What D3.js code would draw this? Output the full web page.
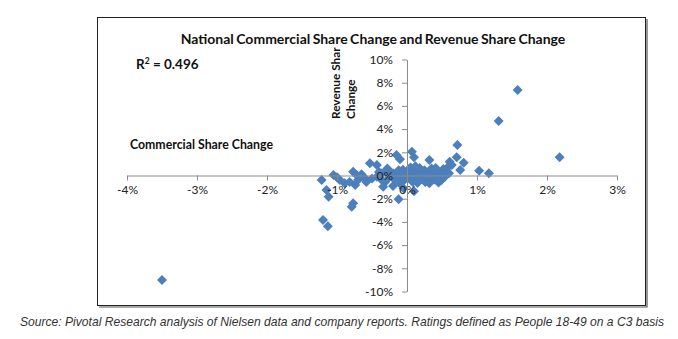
<!DOCTYPE html>
<html>
<head>
<meta charset="utf-8">
<script src="https://cdn.jsdelivr.net/npm/d3@7"></script>
<style>
  body { margin: 0; background: #fff; }
  svg { display: block; }
</style>
</head>
<body>
<div id="chart"></div>
<script>
// commercial share change (%) and revenue share change (%) per network
var commercialShare = [
  -3.50, 1.58, 1.31, 2.18, 0.72, 0.71, 0.81, 0.76, 1.03, 1.17,
  0.61, 0.64, 0.32, 0.07, 0.10, 0.10, -0.12, 0.32,
  -0.15, -0.10, -0.53, -0.43, -0.77, -0.72, -1.05, -1.22, -1.15, -1.12,
  -0.96, -0.89, -0.74, -0.70, -0.60, -0.79, -0.77, -1.20, -1.13,
  -0.31, -0.34, -0.43, -0.36, -0.20, -0.05,
  -0.30, -0.25, -0.20, -0.18, -0.15, -0.12, -0.10, -0.08, -0.05, -0.04,
  -0.02, 0.00, 0.02, 0.03, 0.05, 0.06, 0.08, 0.10, 0.12, 0.13,
  0.15, 0.17, 0.19, 0.20, 0.22, 0.24, 0.25, 0.27, 0.29, 0.30,
  0.32, 0.34, 0.36, 0.38, 0.40, 0.42, 0.43, 0.45, 0.47, 0.49,
  0.50, 0.52, 0.54, 0.56, 0.58, 0.60, -0.35, -0.28, 0.05, 0.18,
  0.35, 0.45, 0.15, -0.10, -0.50, -0.65, -1.00, -0.82,
  -0.22, 0.08, 0.26, 0.41, 0.55, -0.06, 0.33, 0.12, -0.40, -0.58
];
var revenueShare = [
  -9.00, 7.36, 4.69, 1.57, 2.63, 1.57, 1.10, 0.47, 0.41, 0.19,
  1.19, 0.90, 1.34, 2.05, 1.57, -1.36, -2.05, -0.67,
  1.77, 1.40, 1.05, 0.90, 0.33, 0.04, 0.04, -0.39, -1.25, -1.83,
  -0.39, -0.67, -0.82, -0.39, -0.24, -2.69, -2.40, -3.83, -4.37,
  -0.53, -0.96, -0.10, 0.19, -0.90, -1.10,
  0.35, -0.10, 0.20, -0.35, 0.05, 0.45, -0.20, 0.10, -0.45, 0.30,
  0.00, -0.15, 0.25, 0.55, -0.30, 0.05, 0.35, -0.10, 0.15, -0.40,
  0.40, 0.00, -0.20, 0.25, 0.10, -0.30, 0.45, -0.05, 0.20, -0.45,
  0.05, 0.30, -0.20, 0.15, -0.35, 0.40, 0.00, -0.15, 0.25, -0.40,
  0.10, 0.55, -0.10, 0.30, 0.70, 0.20, -0.45, 0.60, 0.70, 0.65,
  0.60, -0.60, -0.65, -0.70, -0.25, 0.10, -0.15, -0.55,
  0.15, -0.55, -0.55, 0.65, 0.10, 0.50, -0.35, 0.80, 0.30, -0.55
];
var xTicks = [-4, -3, -2, -1, 0, 1, 2, 3];
var yTicks = [-10, -8, -6, -4, -2, 0, 2, 4, 6, 8, 10];

var chartTitle = 'National Commercial Share Change and Revenue Share Change';
var rSquared = '0.496';
var sourceNote = 'Source: Pivotal Research analysis of Nielsen data and company reports. Ratings defined as People 18-49 on a C3 basis';

var W = 678, H = 339;
var svg = d3.select('#chart').append('svg')
  .attr('width', W)
  .attr('height', H);

var points = commercialShare.map(function(c, i) {
  return { x: c, y: revenueShare[i] };
});

// plot frame
svg.append('rect')
  .attr('x', 97.5).attr('y', 17.5)
  .attr('width', 548).attr('height', 288)
  .attr('fill', '#fff')
  .attr('stroke', '#222')
  .attr('stroke-width', 1);
svg.append('path')
  .attr('d', 'M647,19V307H99')
  .attr('fill', 'none')
  .attr('stroke', '#555')
  .attr('stroke-width', 1.2);

var x = d3.scaleLinear().domain([-4, 3]).range([127, 617]);
var y = d3.scaleLinear().domain([-10, 10]).range([291.5, 59.5]);

var fmt = function(d) { return d + '%'; };
var labelFont = 'Lato, "Open Sans", sans-serif';

// network markers (drawn under the axes so the tick labels stay on top)
var diamond = d3.symbol().type(d3.symbolSquare).size(50);
svg.append('g').selectAll('path')
  .data(points)
  .enter().append('path')
    .attr('d', diamond)
    .attr('transform', function(d) {
      return 'translate(' + x(d.x) + ',' + y(d.y) + ') rotate(45)';
    })
    .attr('fill', '#4c7fbc');

var xAxis = svg.append('g')
  .attr('transform', 'translate(0,' + y(0) + ')')
  .call(d3.axisBottom(x).tickValues(xTicks).tickFormat(fmt)
    .tickSize(5).tickSizeOuter(0).tickPadding(5));

var yAxis = svg.append('g')
  .attr('transform', 'translate(' + x(0) + ',0)')
  .call(d3.axisLeft(y).tickValues(yTicks).tickFormat(fmt)
    .tickSize(5).tickSizeOuter(0).tickPadding(9));

[xAxis, yAxis].forEach(function(ax) {
  ax.select('.domain').attr('stroke', '#8c8c8c');
  ax.selectAll('.tick line').attr('stroke', '#8c8c8c');
  ax.selectAll('.tick text')
    .attr('fill', '#222')
    .style('font-family', labelFont)
    .style('font-size', '12px');
});

// titles
svg.append('text')
  .attr('x', 373).attr('y', 44)
  .attr('text-anchor', 'middle')
  .style('font-family', labelFont)
  .style('font-weight', 'bold')
  .style('font-size', '14px')
  .style('word-spacing', '-1px')
  .attr('fill', '#111')
  .text(chartTitle);

var r2 = svg.append('text')
  .attr('x', 136).attr('y', 69)
  .style('font-family', labelFont)
  .style('font-weight', 'bold')
  .style('font-size', '13.5px')
  .attr('fill', '#111');
r2.append('tspan').text('R');
r2.append('tspan').attr('dy', -5).style('font-size', '8.5px').text('2');
r2.append('tspan').attr('dy', 5).text(' = ' + rSquared);

svg.append('text')
  .attr('x', 130).attr('y', 149)
  .style('font-family', labelFont)
  .style('font-weight', 'bold')
  .style('font-size', '12.3px')
  .attr('fill', '#111')
  .text('Commercial Share Change');

var yTitle = svg.append('text')
  .attr('transform', 'translate(340,119) rotate(-90)')
  .style('font-family', labelFont)
  .style('font-weight', 'bold')
  .style('font-size', '11.8px')
  .attr('fill', '#111');
yTitle.append('tspan').attr('x', 0).attr('y', 0).text('Revenue Shar');
yTitle.append('tspan').attr('x', 0).attr('y', 15).text('Change');

svg.append('text')
  .attr('x', 342).attr('y', 326)
  .attr('text-anchor', 'middle')
  .style('font-family', '"Liberation Sans", Arial, sans-serif')
  .style('font-style', 'italic')
  .style('font-size', '12.1px')
  .attr('fill', '#333')
  .text(sourceNote);
</script>
</body>
</html>
